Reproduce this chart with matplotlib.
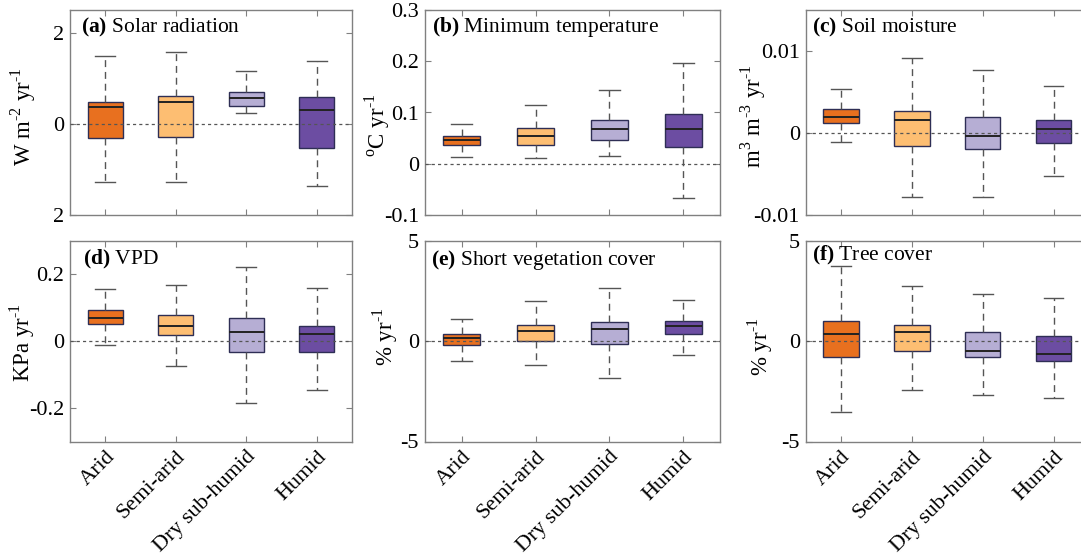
import numpy as np
import matplotlib
matplotlib.use("Agg")
import matplotlib.pyplot as plt

plt.rcParams['font.family'] = ['Liberation Serif', 'DejaVu Serif']
plt.rcParams['mathtext.fontset'] = 'custom'
plt.rcParams['mathtext.rm'] = 'Liberation Serif'
plt.rcParams['mathtext.bf'] = 'Liberation Serif:bold'

# climate zones and colours
zones = ["Arid", "Semi-arid", "Dry sub-humid", "Humid"]
colors = ["#E8701F", "#FDBE72", "#B6AED4", "#6C4DA2"]

# box stats: lower whisker, q1, median, q3, upper whisker
solar_lo = [-1.28, -1.28, 0.23, -1.36]
solar_q1 = [-0.31, -0.29, 0.40, -0.53]
solar_med = [0.36, 0.49, 0.56, 0.30]
solar_q3 = [0.47, 0.62, 0.70, 0.60]
solar_hi = [1.50, 1.58, 1.15, 1.38]

tmin_lo = [0.014, 0.012, 0.015, -0.066]
tmin_q1 = [0.037, 0.036, 0.046, 0.033]
tmin_med = [0.047, 0.055, 0.067, 0.067]
tmin_q3 = [0.055, 0.069, 0.086, 0.098]
tmin_hi = [0.078, 0.114, 0.144, 0.197]

sm_lo = [-0.00115, -0.0078, -0.0078, -0.0053]
sm_q1 = [0.00126, -0.00155, -0.00196, -0.00119]
sm_med = [0.00196, 0.00154, -0.00033, 0.00049]
sm_q3 = [0.0029, 0.0027, 0.00196, 0.00154]
sm_hi = [0.0054, 0.0091, 0.0077, 0.0057]

vpd_lo = [-0.013, -0.073, -0.185, -0.146]
vpd_q1 = [0.050, 0.017, -0.032, -0.032]
vpd_med = [0.070, 0.045, 0.028, 0.022]
vpd_q3 = [0.092, 0.078, 0.069, 0.044]
vpd_hi = [0.155, 0.167, 0.222, 0.160]

svc_lo = [-0.98, -1.18, -1.82, -0.68]
svc_q1 = [-0.18, 0.0, -0.15, 0.33]
svc_med = [0.13, 0.48, 0.60, 0.75]
svc_q3 = [0.35, 0.82, 0.95, 1.02]
svc_hi = [1.12, 2.02, 2.63, 2.03]

tree_lo = [-3.52, -2.42, -2.70, -2.85]
tree_q1 = [-0.80, -0.50, -0.80, -0.98]
tree_med = [0.35, 0.47, -0.47, -0.62]
tree_q3 = [1.00, 0.80, 0.45, 0.25]
tree_hi = [3.72, 2.73, 2.35, 2.13]

panels = [
    ("(a)", "Solar radiation", r"W m$^{\text{-2}}$ yr$^{\text{-1}}$",
     [solar_lo, solar_q1, solar_med, solar_q3, solar_hi],
     (-2, 2.5), [-2, 0, 2], ["2", "0", "2"]),
    ("(b)", "Minimum temperature", r"$^{\text{o}}$C yr$^{\text{-1}}$",
     [tmin_lo, tmin_q1, tmin_med, tmin_q3, tmin_hi],
     (-0.1, 0.3), [-0.1, 0, 0.1, 0.2, 0.3], ["-0.1", "0", "0.1", "0.2", "0.3"]),
    ("(c)", "Soil moisture", r"m$^{\text{3}}$ m$^{\text{-3}}$ yr$^{\text{-1}}$",
     [sm_lo, sm_q1, sm_med, sm_q3, sm_hi],
     (-0.01, 0.015), [-0.01, 0, 0.01], ["-0.01", "0", "0.01"]),
    ("(d)", "VPD", r"KPa yr$^{\text{-1}}$",
     [vpd_lo, vpd_q1, vpd_med, vpd_q3, vpd_hi],
     (-0.3, 0.3), [-0.2, 0, 0.2], ["-0.2", "0", "0.2"]),
    ("(e)", "Short vegetation cover", r"% yr$^{\text{-1}}$",
     [svc_lo, svc_q1, svc_med, svc_q3, svc_hi],
     (-5, 5), [-5, 0, 5], ["-5", "0", "5"]),
    ("(f)", "Tree cover", r"% yr$^{\text{-1}}$",
     [tree_lo, tree_q1, tree_med, tree_q3, tree_hi],
     (-5, 5), [-5, 0, 5], ["-5", "0", "5"]),
]

W, H = 1081, 559
fig = plt.figure(figsize=(W / 100, H / 100), dpi=100)

# axes boxes in pixels: left, right / top, bottom
cols = [(70, 352), (424.5, 720.5), (805.5, 1089)]
rows = [(10, 215), (240.7, 441.5)]
title_pos = [(0.04, 0.915), (0.026, 0.915), (0.022, 0.915),
             (0.045, 0.905), (0.022, 0.905), (0.022, 0.925)]
ylab_pos = [(-0.167, 0.48), (-0.161, 0.44), (-0.185, 0.48),
            (-0.171, 0.49), (-0.133, 0.52), (-0.16, 0.47)]

for i, (tag, name, ylab, st, ylim, yt, ytl) in enumerate(panels):
    r, c = divmod(i, 3)
    x0, x1 = cols[c]
    t, b = rows[r]
    ax = fig.add_axes([x0 / W, (H - b) / H, (x1 - x0) / W, (b - t) / H])

    stats = []
    for k in range(4):
        stats.append(dict(whislo=st[0][k], q1=st[1][k], med=st[2][k],
                          q3=st[3][k], whishi=st[4][k], label=zones[k]))
    bp = ax.bxp(stats, positions=[1, 2, 3, 4], widths=0.5, capwidths=0.28,
                patch_artist=True, showfliers=False,
                boxprops=dict(edgecolor="#2e2e55", linewidth=1.0),
                whiskerprops=dict(color="#555555", linewidth=1.0, linestyle=(0, (5, 3.5))),
                capprops=dict(color="#555555", linewidth=1.0),
                medianprops=dict(color="#222222", linewidth=1.4))
    for patch, col in zip(bp["boxes"], colors):
        patch.set_facecolor(col)

    ax.axhline(0, color="#555555", linewidth=0.9, linestyle=(0, (2.5, 2.5)), zorder=5)

    ax.set_xlim(0.5, 4.5)
    ax.set_ylim(*ylim)
    ax.set_yticks(yt)
    ax.set_yticklabels(ytl)
    ax.set_xticks([1, 2, 3, 4])
    if r == 1:
        ax.set_xticklabels(zones, rotation=45, ha="right", rotation_mode="anchor")
    else:
        ax.set_xticklabels([])

    ax.tick_params(direction="in", length=4, width=0.8, color="#808080",
                   top=True, right=True, labelsize=16, pad=4)
    for sp in ax.spines.values():
        sp.set_color("#808080")
        sp.set_linewidth(1.0)

    ax.set_ylabel(ylab, fontsize=16.5, va="center")
    ax.yaxis.set_label_coords(*ylab_pos[i])

    ax.text(title_pos[i][0], title_pos[i][1], r"$\mathbf{" + tag + "}$ " + name,
            transform=ax.transAxes, fontsize=15.5, va="center", ha="left")

fig.savefig("out.png", dpi=100)
